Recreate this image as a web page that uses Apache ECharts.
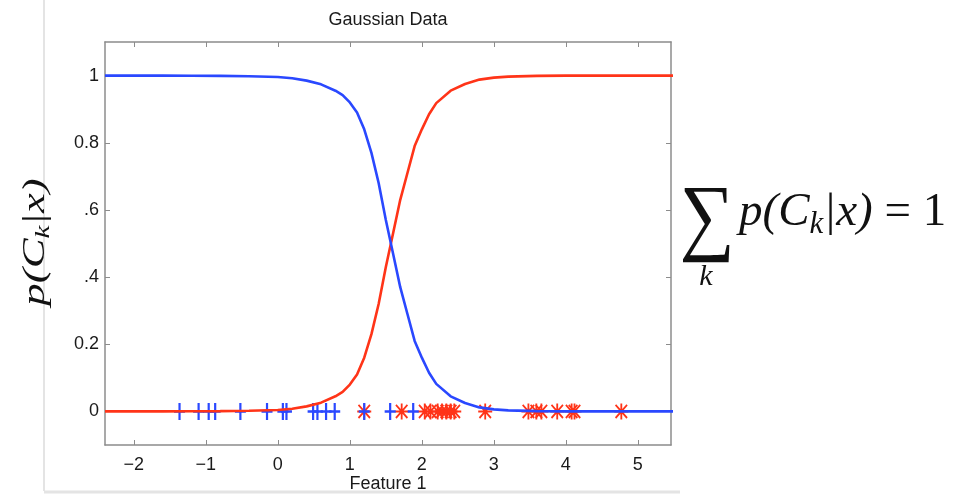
<!DOCTYPE html>
<html><head><meta charset="utf-8">
<script src="https://cdn.jsdelivr.net/npm/echarts@6/dist/echarts.min.js"></script>
<style>html,body{margin:0;padding:0;background:#fff}#c{width:963px;height:495px}</style>
</head><body><div id="c"></div>
<script>
// ---- data ----
const xTicks = [-2, -1, 0, 1, 2, 3, 4, 5];
const xTickLabels = ['\u22122', '\u22121', '0', '1', '2', '3', '4', '5'];
const yTicks = [0, 0.2, 0.4, 0.6, 0.8, 1];
const yTickLabels = ['0', '0.2', '.4', '.6', '0.8', '1'];
const xAxisTitle = 'Feature 1';
const chartTitle = 'Gaussian Data';

const curveX = [-2.4, -2.0, -1.6, -1.2, -0.8, -0.4, 0, 0.2, 0.4, 0.6, 0.8, 0.9, 1.0, 1.1, 1.2, 1.3, 1.4, 1.5, 1.6, 1.7, 1.8, 1.9, 2.0, 2.1, 2.2, 2.4, 2.6, 2.8, 3.0, 3.2, 3.6, 4.0, 4.5, 5.0, 5.5];
const redCurve = [0, 0, 0, 0.0005, 0.001, 0.002, 0.004, 0.008, 0.015, 0.026, 0.045, 0.058, 0.08, 0.11, 0.16, 0.23, 0.32, 0.43, 0.53, 0.63, 0.71, 0.79, 0.84, 0.885, 0.918, 0.955, 0.975, 0.988, 0.994, 0.997, 0.999, 1, 1, 1, 1];
const blueCurve = [1, 1, 1, 0.9995, 0.999, 0.998, 0.996, 0.992, 0.985, 0.974, 0.955, 0.942, 0.92, 0.89, 0.84, 0.77, 0.68, 0.57, 0.47, 0.37, 0.29, 0.21, 0.16, 0.115, 0.082, 0.045, 0.025, 0.012, 0.006, 0.003, 0.001, 0, 0, 0, 0];

const bluePoints = [-1.365, -1.10, -0.96, -0.87, -0.52, -0.15, 0.07, 0.12, 0.49, 0.55, 0.67, 0.79, 1.20, 1.56, 1.88];
const redPoints = [1.20, 1.72, 2.04, 2.12, 2.22, 2.28, 2.34, 2.40, 2.45, 2.88, 3.48, 3.59, 3.66, 3.88, 4.08, 4.12, 4.77];

// ---- chart ----
const chart = echarts.init(document.getElementById('c'), null, {renderer: 'canvas'});
const AX = '#8c8c8c';
const SANS = '"Liberation Sans", Arial, Helvetica, sans-serif';
const SERIF = '"Liberation Serif", "DejaVu Serif", serif';
const BLUE = '#2a48ff';
const RED = '#ff3418';

function fmt(ticks, labels) {
  return function (v) {
    const i = ticks.findIndex(t => Math.abs(t - v) < 1e-6);
    return i >= 0 ? labels[i] : '';
  };
}
function zip(xs, ys) { return xs.map((x, i) => [x, ys[i]]); }

const plusPath = 'path://M4,0H6V6H10V8H6V14H4V8H0V6H4Z';
const starPath = 'path://M8.7,0H11.3V20H8.7Z M0,8.7H20V11.3H0Z M0.9,2.7L2.7,0.9L19.1,17.3L17.3,19.1Z M17.3,0.9L19.1,2.7L2.7,19.1L0.9,17.3Z';

const baseAxisLine = {show: true, onZero: false, lineStyle: {color: AX, width: 1.5}};

const option = {
  animation: false,
  backgroundColor: '#fff',
  grid: {left: 105, right: 292, top: 42, bottom: 50, containLabel: false, outerBoundsMode: 'none'},
  xAxis: [
    {
      type: 'value', min: -2.4, max: 5.46, position: 'bottom',
      axisLine: baseAxisLine,
      axisTick: {show: true, inside: true, length: 5, customValues: xTicks, lineStyle: {color: AX, width: 1}},
      axisLabel: {customValues: xTicks, formatter: fmt(xTicks, xTickLabels), color: '#1a1a1a', fontSize: 18, fontFamily: SANS, margin: 11},
      splitLine: {show: false}
    },
    {
      type: 'value', min: -2.4, max: 5.46, position: 'top',
      axisLine: baseAxisLine,
      axisTick: {show: true, inside: true, length: 5, customValues: xTicks, lineStyle: {color: AX, width: 1}},
      axisLabel: {show: false},
      splitLine: {show: false}
    }
  ],
  yAxis: [
    {
      type: 'value', min: -0.1, max: 1.1, position: 'left',
      axisLine: baseAxisLine,
      axisTick: {show: true, inside: true, length: 5, customValues: yTicks, lineStyle: {color: AX, width: 1}},
      axisLabel: {customValues: yTicks, formatter: fmt(yTicks, yTickLabels), color: '#1a1a1a', fontSize: 18, fontFamily: SANS, margin: 6},
      splitLine: {show: false}
    },
    {
      type: 'value', min: -0.1, max: 1.1, position: 'right',
      axisLine: baseAxisLine,
      axisTick: {show: true, inside: true, length: 5, customValues: yTicks, lineStyle: {color: AX, width: 1}},
      axisLabel: {show: false},
      splitLine: {show: false}
    }
  ],
  series: [
    {
      type: 'scatter', name: 'class 2 data', xAxisIndex: 0, yAxisIndex: 0,
      data: redPoints.map(x => [x, 0]),
      symbol: starPath, symbolSize: [14, 16],
      itemStyle: {color: RED, opacity: 1}
    },
    {
      type: 'scatter', name: 'class 1 data', xAxisIndex: 0, yAxisIndex: 0,
      data: bluePoints.map(x => [x, 0]),
      symbol: plusPath, symbolSize: [11, 17],
      itemStyle: {color: BLUE, opacity: 1}
    },
    {
      type: 'line', name: 'p(C2|x)', xAxisIndex: 0, yAxisIndex: 0,
      data: zip(curveX, redCurve), showSymbol: false, symbol: 'none',
      lineStyle: {color: RED, width: 2.6}, clip: true
    },
    {
      type: 'line', name: 'p(C1|x)', xAxisIndex: 0, yAxisIndex: 0,
      data: zip(curveX, blueCurve), showSymbol: false, symbol: 'none',
      lineStyle: {color: BLUE, width: 2.6}, clip: true
    }
  ],
  graphic: [
    // light frame of the pasted figure
    {type: 'line', z: -1, shape: {x1: 44, y1: 0, x2: 44, y2: 491}, style: {stroke: '#e4e4e4', lineWidth: 2}},
    {type: 'line', z: -1, shape: {x1: 44, y1: 492, x2: 680, y2: 492}, style: {stroke: '#e4e4e4', lineWidth: 3}},
    // title
    {type: 'text', x: 388, y: 20.5, style: {text: chartTitle, font: '18px ' + SANS, fill: '#1a1a1a', textAlign: 'center', textVerticalAlign: 'middle'}},
    // x-axis title
    {type: 'text', x: 388, y: 484.5, style: {text: xAxisTitle, font: '18px ' + SANS, fill: '#1a1a1a', textAlign: 'center', textVerticalAlign: 'middle'}},
    // y-axis label p(C_k|x)
    {
      type: 'text', x: 36, y: 242, rotation: Math.PI / 2, scaleX: 1.4, scaleY: 1,
      style: {
        text: '{m|p(C}{s|k}{m||x)}',
        textAlign: 'center', textVerticalAlign: 'middle',
        rich: {
          m: {fontFamily: SERIF, fontStyle: 'italic', fontSize: 32, lineHeight: 36, fill: '#111'},
          s: {fontFamily: SERIF, fontStyle: 'italic', fontSize: 21, lineHeight: 21, verticalAlign: 'bottom', fill: '#111'}
        }
      }
    },
    // right formula: sum_k p(C_k|x) = 1
    {type: 'text', x: 707, y: 221, scaleX: 0.9, style: {text: '\u2211', font: '86px ' + SERIF, fill: '#111', textAlign: 'center', textVerticalAlign: 'middle'}},
    {type: 'text', x: 706, y: 277, style: {text: 'k', font: 'italic 30px ' + SERIF, fill: '#111', textAlign: 'center', textVerticalAlign: 'middle'}},
    {
      type: 'text', x: 739, y: 213,
      style: {
        text: '{m|p(C}{s|k}{m||x)}{u| = 1}',
        textAlign: 'left', textVerticalAlign: 'middle',
        rich: {
          m: {fontFamily: SERIF, fontStyle: 'italic', fontSize: 47, lineHeight: 54, fill: '#111'},
          s: {fontFamily: SERIF, fontStyle: 'italic', fontSize: 31, lineHeight: 31, verticalAlign: 'bottom', fill: '#111'},
          u: {fontFamily: SERIF, fontSize: 47, lineHeight: 54, fill: '#111'}
        }
      }
    }
  ]
};
chart.setOption(option);
</script>
</body></html>
